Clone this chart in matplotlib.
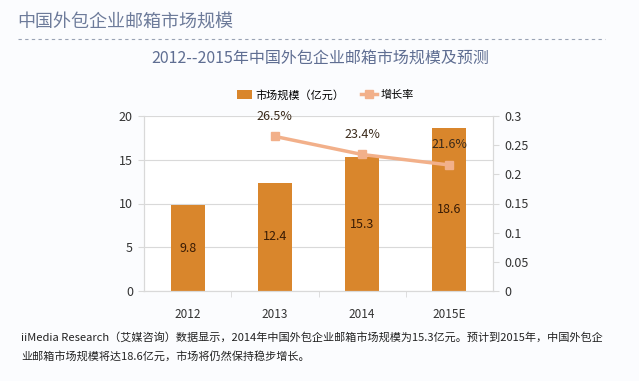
import matplotlib.pyplot as plt
from matplotlib.lines import Line2D
from matplotlib.patches import Patch

plt.rcParams['font.family'] = ['Noto Sans CJK SC', 'DejaVu Sans']

# data
years = ['2012', '2013', '2014', '2015E']
market_size = [9.8, 12.4, 15.3, 18.6]        # 亿元
growth_years = ['2013', '2014', '2015E']
growth_rate = [0.265, 0.234, 0.216]
growth_labels = ['26.5%', '23.4%', '21.6%']

bar_color = '#d9862c'
line_color = '#f2b08a'
grid_color = '#d9d9d9'
text_color = '#333333'

fig = plt.figure(figsize=(6.39, 3.81), dpi=100)
fig.patch.set_facecolor('#fbfcfe')

# page header
fig.text(17 / 639, 1 - 22 / 381, '中国外包企业邮箱市场规模', fontsize=13,
         color='#6d7b9a', va='center', ha='left')
fig.add_artist(Line2D([18 / 639, 605 / 639], [1 - 39 / 381, 1 - 39 / 381],
                      transform=fig.transFigure, color='#9aa3b5',
                      linestyle=(0, (3, 3)), linewidth=0.8))
fig.text(320 / 639, 1 - 58 / 381, '2012--2015年中国外包企业邮箱市场规模及预测',
         fontsize=11.5, color='#5f6e92', va='center', ha='center')

ax = fig.add_axes([144 / 639, 1 - 291 / 381, 349 / 639, 175 / 381])
ax.set_facecolor('white')
x = list(range(len(years)))
bars = ax.bar(x, market_size, width=0.39, color=bar_color, zorder=2)
for xi, v in zip(x, market_size):
    ax.text(xi, v / 2, f'{v}', ha='center', va='center', fontsize=9,
            color='#3a1c05', zorder=5)

ax.set_xlim(-0.5, len(years) - 0.5)
ax.set_ylim(0, 20)
ax.set_yticks([0, 5, 10, 15, 20])
ax.set_xticks(x)
ax.set_xticklabels(years)
ax.set_xticks([0.5, 1.5, 2.5], minor=True)
ax.tick_params(axis='x', which='major', length=0, pad=12, labelsize=8.5,
               labelcolor=text_color)
ax.tick_params(axis='x', which='minor', length=4, color=grid_color)
ax.tick_params(axis='y', length=4, color=grid_color, labelsize=9,
               labelcolor=text_color, pad=4)
ax.yaxis.grid(True, color=grid_color, linewidth=0.8, zorder=0)
ax.set_axisbelow(True)
ax.spines['top'].set_visible(False)
for side in ['left', 'bottom', 'right']:
    ax.spines[side].set_color(grid_color)

ax2 = ax.twinx()
gx = [years.index(g) for g in growth_years]
ax2.plot(gx, growth_rate, color=line_color, linewidth=2.5, marker='s',
         markersize=6, zorder=4)
for xi, v, lab in zip(gx, growth_rate, growth_labels):
    ax2.annotate(lab, (xi, v), xytext=(0, 10), textcoords='offset points',
                 ha='center', va='bottom', fontsize=9, color='#3a2a1a')
ax2.set_ylim(0, 0.3)
ax2.set_yticks([0, 0.05, 0.1, 0.15, 0.2, 0.25, 0.3])
ax2.set_yticklabels(['0', '0.05', '0.1', '0.15', '0.2', '0.25', '0.3'])
ax2.tick_params(axis='y', length=4, color=grid_color, labelsize=9,
                labelcolor=text_color, pad=4)
ax2.spines['top'].set_visible(False)
for side in ['left', 'bottom', 'right']:
    ax2.spines[side].set_color(grid_color)

handles = [Patch(facecolor=bar_color, label='市场规模（亿元）'),
           Line2D([0], [0], color=line_color, linewidth=2.5, marker='s',
                  markersize=6, label='增长率')]
fig.legend(handles=handles, loc='center', ncol=2,
           bbox_to_anchor=(325 / 639, 1 - 95 / 381), frameon=False,
           fontsize=8, handlelength=1.4, handleheight=0.8, columnspacing=1.5,
           handletextpad=0.3)

footer = ('iiMedia Research（艾媒咨询）数据显示，2014年中国外包企业邮箱市场规模为15.3亿元。预计到2015年，中国外包企\n'
          '业邮箱市场规模将达18.6亿元，市场将仍然保持稳步增长。')
fig.text(21 / 639, 1 - 347 / 381, footer, fontsize=8, color='#222222',
         ha='left', va='center', linespacing=1.9)

fig.savefig('out.png', dpi=100, facecolor=fig.get_facecolor())
